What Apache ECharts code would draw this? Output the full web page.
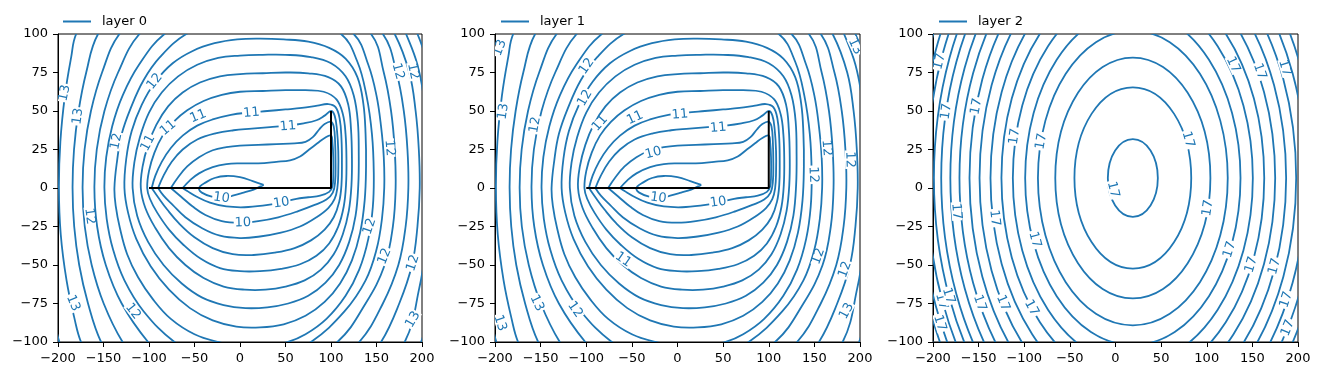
<!DOCTYPE html>
<html><head><meta charset="utf-8">
<script src="https://cdn.jsdelivr.net/npm/echarts@6/dist/echarts.min.js"></script>
<style>html,body{margin:0;padding:0;background:#fff}#c{width:1320px;height:376px}</style>
</head><body><div id="c"></div>
<script>
// ---------------- data ----------------
const xTicks = [-200,-150,-100,-50,0,50,100,150,200];
const yTicks = [-100,-75,-50,-25,0,25,50,75,100];
const legendNames = ['layer 0','layer 1','layer 2'];
const wellPath = [[-100,0],[100,0],[100,50]];

// contour lines of layer 0 (data coordinates), inner to outer
const layer0Contours = [
 {closed:false, pts:[[26,2],[14,4.5],[0,7],[-15,7.8],[-28,6.5],[-38,3.5],[-44,1],[-45,-1],[-42,-3],[-32,-5.5],[-20,-6.5],[-8,-5],[4,-3],[15,-1],[26,2]]},
 {closed:false, pts:[[-63,0],[-55,5],[-45,9.5],[-30,13.5],[-15,15.5],[0,16],[20,16],[40,17],[55,18],[66,20.5],[76,25],[85,29],[93,32.5],[100,34],[101.5,30],[102.5,20],[102.5,8],[101.5,1],[98,-2.5],[88,-5],[75,-6],[62,-7],[45,-9.5],[25,-11.5],[5,-12.5],[-15,-12],[-33,-9.5],[-48,-5.5],[-58,-2],[-63,0]]},
 {closed:false, pts:[[-76,0],[-68,7],[-58,14],[-45,20],[-30,24.5],[-15,26.5],[0,27.5],[20,28],[40,28.5],[60,29],[72,30],[80,33],[87,38],[93,41.5],[100,43],[103,40],[104.5,30],[105,16],[104.5,4],[102,-3],[95,-7.5],[82,-11],[64,-15],[42,-19],[20,-21.5],[0,-22.5],[-20,-21.5],[-38,-17.5],[-52,-12],[-65,-5.5],[-76,0]]},
 {closed:false, pts:[[-90,0],[-84,8],[-75,17],[-63,25],[-47,31.5],[-27,35.5],[-7,37.5],[13,38.5],[33,39.5],[52,40.5],[70,42],[84,44],[93,47],[100,50],[104,47],[106.5,38],[108,24],[108,10],[107,0],[104,-7],[97,-13],[84,-19],[66,-25],[45,-29],[22,-31.5],[0,-32.5],[-22,-31],[-42,-26],[-60,-19],[-74,-11],[-84,-5],[-90,0]]},
 {closed:false, pts:[[-97,0],[-93,8],[-86,17],[-76,26],[-63,34],[-47,40.5],[-30,44.5],[-10,47.5],[10,49],[30,50],[50,51],[68,52],[85,53.5],[97,54.5],[105,52.5],[109.5,45],[111.5,32],[112,16],[111.5,2],[109,-9],[103,-19],[93,-27],[78,-34],[60,-39],[38,-42],[15,-43.5],[-8,-43],[-30,-39],[-50,-32],[-67,-23],[-80,-14],[-90,-6],[-97,0]]},
 {closed:true, pts:[[-102,0],[-100,11],[-94,23],[-85,34],[-73,43],[-58,50.5],[-40,56.5],[-20,60.5],[0,62.5],[25,63],[50,63.5],[72,63.5],[92,62.5],[106,57.5],[113,48],[116,35],[117,18],[116.5,2],[114,-12],[108,-25],[98,-36],[84,-44],[66,-49.5],[45,-52.5],[22,-54],[0,-54],[-22,-52],[-43,-46],[-62,-37],[-78,-27],[-91,-16],[-99,-7]]},
 {closed:true, pts:[[-109,0],[-107,14],[-101,28],[-92,41],[-79,53],[-63,62],[-44,68.5],[-22,72.5],[0,74],[25,74.5],[50,75],[75,74.5],[97,72],[111,66],[119,54],[122,38],[123,20],[122.5,2],[119.5,-15],[113,-30],[103,-43],[89,-53],[71,-60],[50,-64],[28,-66],[5,-66],[-18,-64],[-40,-58.5],[-60,-50],[-78,-39],[-93,-26],[-104,-13]]},
 {closed:true, pts:[[-118,0],[-116,17],[-110,33],[-100,49],[-86,62],[-68,72.5],[-47,80],[-24,84.5],[0,86],[25,86.5],[50,86.5],[78,85],[100,81],[116,72.5],[125,60],[129.5,43],[130.5,22],[130,2],[127,-18],[120,-35],[109,-50],[94,-61.5],[75,-70],[53,-75],[30,-77.5],[6,-78],[-18,-76],[-42,-71],[-64,-62],[-84,-50],[-101,-35],[-113,-18]]},
 {closed:true, pts:[[-127,0],[-125,19],[-119,37],[-108,54],[-93,69],[-74,81],[-52,89],[-28,94],[-3,96.5],[22,97],[48,96.5],[75,95],[98,91],[116,84],[129,72],[135.5,55],[138,35],[138.5,14],[137,-8],[132,-29],[123,-47],[110,-62],[93,-74],[72,-83],[48,-88.5],[22,-90.5],[-4,-90],[-30,-86],[-55,-78],[-78,-66],[-98,-51],[-114,-33],[-123,-16]]},
 {closed:true, pts:[[-138,0],[-135,18],[-130,35],[-120,52],[-106,70],[-88,85],[-59,100],[-20,109],[25,112],[70,110],[111,100],[129,82],[139,60],[145,35],[147,10],[146,-12],[141,-33],[131,-53],[116,-70],[95,-85],[72,-95],[52,-100],[14,-104],[-24,-100],[-50,-95],[-76,-85],[-96,-72],[-112,-58],[-124,-43],[-132,-26],[-136.5,-12]]},
 {closed:true, pts:[[-149,0],[-147,20],[-140.5,40],[-129,60],[-111,80],[-83,100],[-40,114],[20,121],[80,117],[125,100],[141,80],[150,60],[155,40],[158,20],[158.5,0],[156,-20],[150,-40],[138,-60],[115,-80],[78,-100],[40,-111],[0,-114],[-40,-110],[-72,-100],[-106,-80],[-127,-60],[-139.5,-40],[-146.5,-20]]},
 {closed:true, pts:[[-160,0],[-157.4,25],[-149,50],[-134,75],[-110.5,100],[-60,125],[10,138],[90,128],[144,100],[158,75],[166,50],[170,25],[171,0],[168,-25],[159,-50],[138,-75],[107,-100],[50,-122],[-20,-129],[-70,-118],[-101,-100],[-130,-75],[-147.5,-50],[-157,-25]]},
 {closed:true, pts:[[-173,0],[-170.8,25],[-163.8,50],[-151.6,75],[-132.5,100],[-70,140],[10,155],[90,145],[157,100],[172,75],[180,50],[184,25],[185,0],[182,-25],[174,-50],[157,-75],[131,-100],[60,-140],[-30,-150],[-90,-132],[-129,-100],[-149.8,-75],[-163,-50],[-170.6,-25]]},
 {closed:true, pts:[[-184,0],[-182.4,25],[-177.4,50],[-169,75],[-156,100],[-90,160],[10,189],[110,162],[170,100],[186,75],[193,50],[196.5,25],[197.5,0],[195,-25],[189,-50],[175,-75],[155,-100],[80,-165],[-20,-179],[-100,-160],[-152.7,-100],[-167,-75],[-176.7,-50],[-182.2,-25]]},
 {closed:true, pts:[[-199,0],[-197.4,30],[-192.4,60],[-185.5,85],[-180,100],[-100,200],[10,235],[120,190],[182.5,100],[195,80],[203,55],[208,25],[209,0],[205,-35],[197,-65],[181,-100],[100,-180],[-20,-209],[-120,-175],[-174.7,-100],[-181.8,-85],[-190.6,-60],[-197,-30]]},
 {closed:true, pts:[[-214,0],[-211,-50],[-205,-80],[-198.5,-100],[-140,-200],[0,-240],[120,-200],[199,-100],[214,-50],[220,0],[214,50],[206,80],[195,100],[120,200],[0,260],[-140,230],[-210,100],[-215,40]]}
];
// layer 1 contours look the same as layer 0 in the picture
const layer1Contours = layer0Contours;

// layer 2: concentric ellipses (centre, half widths, height/width ratio)
const layer2Center = [19, 6.5];
const layer2HalfWidths = [27.4,64,85,104,118,131.5,144,156,168,179,190,200,210,218,226,234,241,248];
const layer2Aspect = 0.92;

// contour labels: [x, y, text, angle]
const layer0Labels = [
 [-192.6,61.7,'13',78],[-178,46.5,'13',82],[-93.7,69.2,'12',52],[-135.8,30.3,'12',78],
 [-101,29.2,'11',62],[-79,39,'11',40],[-46,46.5,'11',22],[12.5,48.7,'11',5],[52.7,40,'11',5],
 [-20.4,-6.5,'10',-8],[45.5,-9.7,'10',8],[3.3,-22.7,'10',2],
 [-165.2,-18.4,'12',-82],[-183.5,-74.7,'13',-68],[-117.6,-80.1,'12',-52],
 [142.5,-24.9,'12',72],[159,-44.4,'12',68],[190.1,-48.7,'12',72],[190.1,-85.5,'13',60],
 [164.5,26,'12',-85],[173.6,75.7,'12',-75],[190.1,75.7,'12',-78]
];
const layer1Labels = [
 [-194.5,91,'13',70],[-99.5,79,'12',55],[-101.4,58.4,'12',60],[-190.9,49.7,'13',82],
 [-156,41,'12',80],[-85,42,'11',48],[-46.6,45.5,'11',25],[2.7,47.6,'11',5],[44.7,39,'11',5],
 [-26.5,22.7,'10',15],[-21,-6.5,'10',-8],[44.7,-9.3,'10',8],
 [163.5,26,'12',-85],[189,18.4,'12',-88],[148.8,8.6,'12',-88],
 [154.3,-44.4,'12',70],[183.6,-53,'12',70],[185.4,-80,'13',62],[194.5,92,'13',-65],
 [-59.4,-46.6,'11',-35],[-112.3,-79,'12',-55],[-154.3,-74.7,'13',-65],[-194.5,-87.7,'13',-72]
];
const layer2Labels = [
 [-192.7,82.2,'17',76],[-185.3,49.7,'17',82],[-152.4,53,'17',79],[-110.5,33.5,'17',82],
 [-81.2,30.3,'17',80],[79.5,31.4,'17',-74],[128.8,80,'17',-65],[158,75.7,'17',-71],
 [185.4,77.9,'17',-73],[-2.7,-1.1,'17',-76],[-174.4,-15.2,'17',-85],[-132.4,-19.5,'17',-83],
 [-88.5,-33.6,'17',-75],[101.4,-13,'17',81],[125.2,-40,'17',73],[148.9,-49.8,'17',73],
 [174.5,-50.9,'17',75],[-190.8,-73.6,'17',-75],[-183,-70,'17',-73],[-148.8,-74.7,'17',-71],
 [-123.3,-74.7,'17',-68],[-92.2,-77.9,'17',-62],[187.3,-72.5,'17',72],[189,-90.9,'17',68],
 [-192.7,-87.7,'17',-73]
];

// ---------------- chart ----------------
const BLUE = '#1f77b4';
const FONT = 'DejaVu Sans';
const chart = echarts.init(document.getElementById('c'), null, {renderer:'canvas'});
const grids = [
 {left:58, top:34, width:364, height:308},
 {left:495, top:34, width:365, height:308},
 {left:933, top:34, width:365, height:308}
];
const legendLeft = [63, 501, 939];
const fmt = v => String(v).replace('-', '\u2212');

function xAxisFor(i){
 return {gridIndex:i, type:'value', min:xTicks[0], max:xTicks[xTicks.length-1], interval:xTicks[1]-xTicks[0],
  axisLine:{show:true, onZero:false, lineStyle:{color:'#000', width:1}},
  axisTick:{show:true, inside:false, length:5, lineStyle:{color:'#000', width:1}},
  axisLabel:{color:'#000', fontSize:13, fontFamily:FONT, margin:10, formatter:fmt},
  splitLine:{show:false}};
}
function yAxisFor(i){
 return {gridIndex:i, type:'value', min:yTicks[0], max:yTicks[yTicks.length-1], interval:yTicks[1]-yTicks[0],
  axisLine:{show:true, onZero:false, lineStyle:{color:'#000', width:1}},
  axisTick:{show:true, inside:false, length:5, lineStyle:{color:'#000', width:1}},
  axisLabel:{color:'#000', fontSize:13, fontFamily:FONT, margin:10, formatter:fmt},
  splitLine:{show:false}};
}
function contourSeries(i, name, contours){
 return {type:'custom', name:name, xAxisIndex:i, yAxisIndex:i, clip:true, silent:true, z:2,
  itemStyle:{color:BLUE}, animation:false,
  data: contours.map((c,k)=>[k,0]),
  renderItem:(params, api)=>{
   const c = contours[api.value(0)];
   const pts = c.pts.map(p=>api.coord(p));
   return {type: c.closed ? 'polygon' : 'polyline', shape:{points:pts, smooth:0.4},
    style:{fill:'none', stroke:BLUE, lineWidth:1.8}};
  }};
}
function ellipseSeries(i, name){
 return {type:'custom', name:name, xAxisIndex:i, yAxisIndex:i, clip:true, silent:true, z:2,
  itemStyle:{color:BLUE}, animation:false,
  data: layer2HalfWidths.map((w,k)=>[k,0]),
  renderItem:(params, api)=>{
   const hw = layer2HalfWidths[api.value(0)];
   const c = api.coord(layer2Center);
   const s = api.size([hw, hw*layer2Aspect]);
   return {type:'ellipse', shape:{cx:c[0], cy:c[1], rx:s[0], ry:s[1]},
    style:{fill:'none', stroke:BLUE, lineWidth:1.8}};
  }};
}
function labelSeries(i, labels){
 return {type:'custom', xAxisIndex:i, yAxisIndex:i, clip:true, silent:true, z:3, animation:false,
  data: labels.map((l,k)=>[l[0], l[1], k]),
  renderItem:(params, api)=>{
   const l = labels[api.value(2)];
   const p = api.coord([l[0], l[1]]);
   return {type:'text', x:p[0], y:p[1], rotation:l[3]*Math.PI/180,
    style:{text:l[2], fill:BLUE, fontSize:13, fontFamily:FONT, align:'center', verticalAlign:'middle',
     backgroundColor:'#fff', padding:[0,1], lineHeight:10}};
  }};
}
function wellSeries(i){
 return {type:'line', xAxisIndex:i, yAxisIndex:i, data:wellPath, symbol:'none', silent:true, z:5,
  animation:false, lineStyle:{color:'#000', width:2}};
}

const option = {
 animation:false,
 color:[BLUE],
 grid: grids.map(g=>Object.assign({show:true, borderColor:'#000', borderWidth:1, backgroundColor:'#fff'}, g)),
 xAxis: [0,1,2].map(xAxisFor),
 yAxis: [0,1,2].map(yAxisFor),
 legend: [0,1,2].map(i=>({data:[{name:legendNames[i], icon:'rect'}], left:legendLeft[i], top:15, padding:0,
  itemWidth:28, itemHeight:2, selectedMode:false,
  textStyle:{fontSize:13, fontFamily:FONT, color:'#000', padding:[0,0,0,6]}})),
 series: [
  contourSeries(0, legendNames[0], layer0Contours), labelSeries(0, layer0Labels), wellSeries(0),
  contourSeries(1, legendNames[1], layer1Contours), labelSeries(1, layer1Labels), wellSeries(1),
  ellipseSeries(2, legendNames[2]), labelSeries(2, layer2Labels)
 ]
};
chart.setOption(option);
</script></body></html>
